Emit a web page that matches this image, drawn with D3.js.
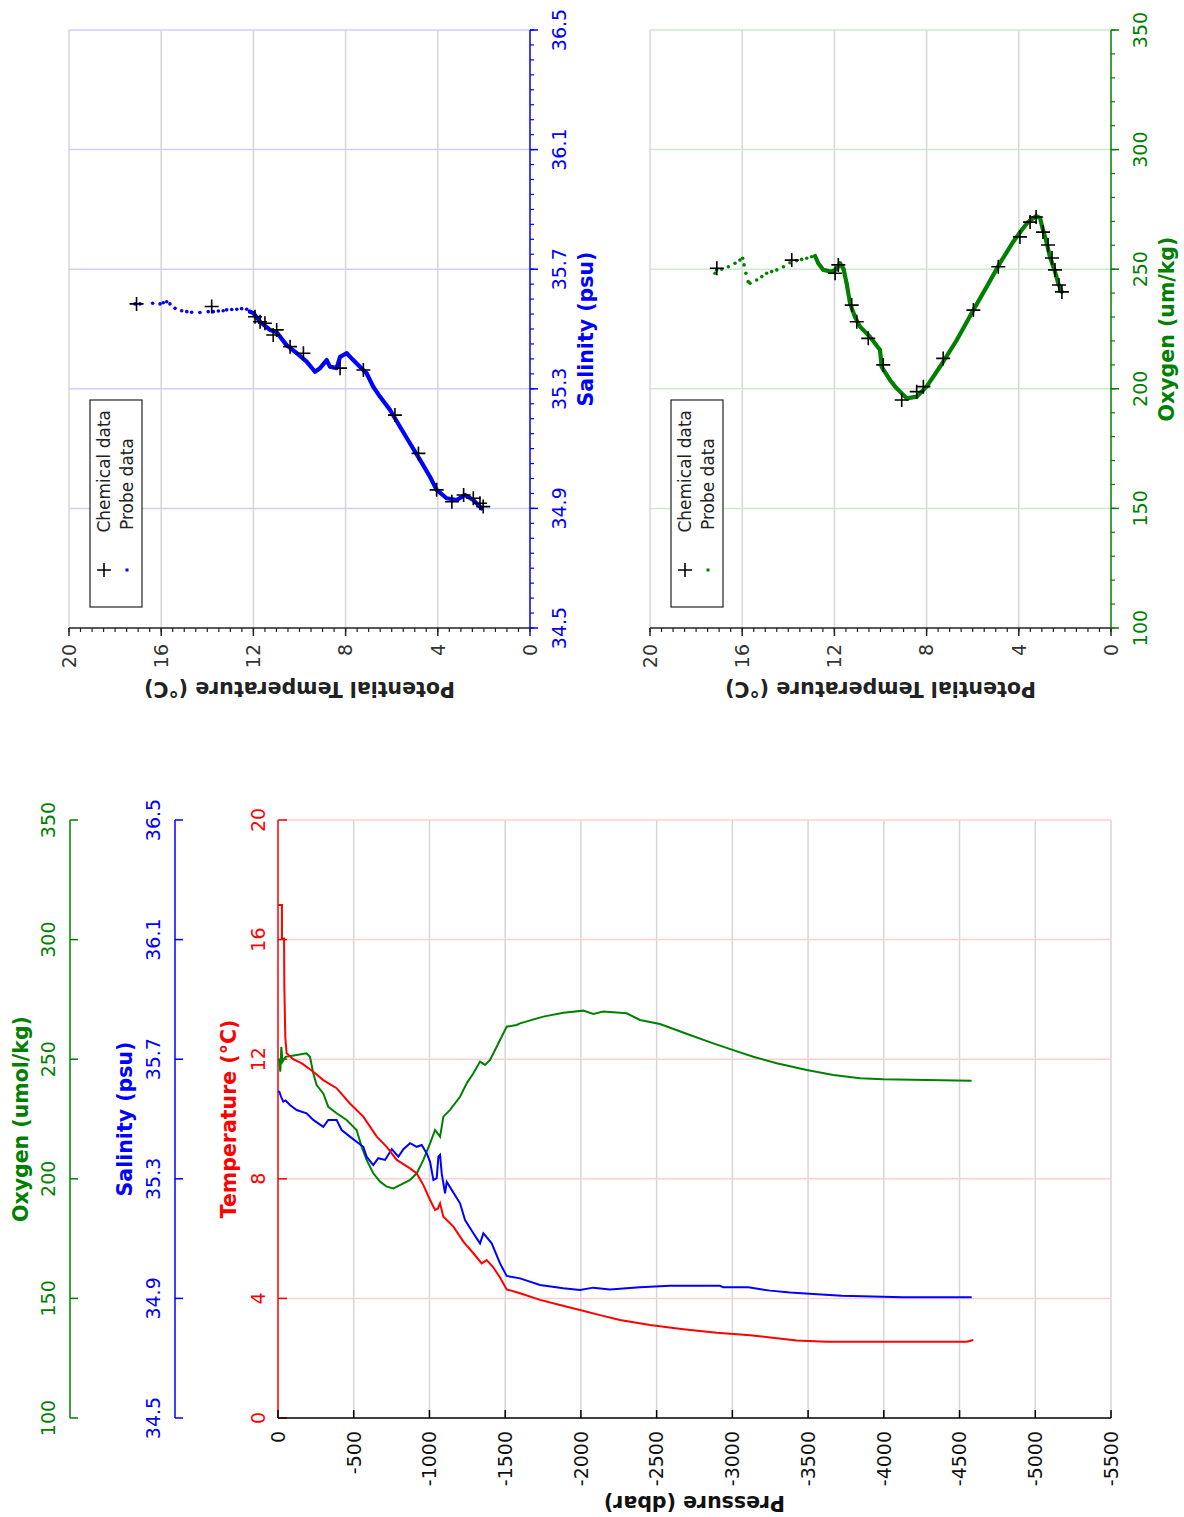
<!DOCTYPE html>
<html><head><meta charset="utf-8">
<script src="https://cdn.jsdelivr.net/npm/d3@7/dist/d3.min.js"></script>
<style>
html,body{margin:0;padding:0;background:#fff;}
svg{display:block;}
text{font-family:"DejaVu Sans",Verdana,sans-serif;}
</style></head><body>
<svg id="chart" width="1184" height="1517"></svg>
<script>
// ---------------- data ----------------
const pressureTicks = [0,-500,-1000,-1500,-2000,-2500,-3000,-3500,-4000,-4500,-5000,-5500];
const temperatureTicks = [0,4,8,12,16,20];
const salinityTicks = [34.5,34.9,35.3,35.7,36.1,36.5];
const oxygenTicks = [100,150,200,250,300,350];
const thetaTicks = [0,4,8,12,16,20];

// [pressure (dbar), temperature (°C)]
const temperatureProfile = [[0,17.16],[-26,17.16],[-26,16.04],[-40,16.04],[-42,14.4],[-48,12.75],[-57,12.2],[-100,12.0],[-160,11.85],[-233,11.58],[-299,11.3],[-387,11.03],[-475,10.52],[-563,10.08],[-652,9.41],[-718,9.07],[-784,8.63],[-872,8.35],[-916,8.18],[-960,7.79],[-1004,7.29],[-1037,6.96],[-1055,7.0],[-1070,7.18],[-1092,6.73],[-1158,6.4],[-1224,5.9],[-1290,5.51],[-1345,5.17],[-1378,5.28],[-1420,5.05],[-1466,4.7],[-1510,4.3],[-1598,4.17],[-1730,3.95],[-1862,3.78],[-1994,3.61],[-2126,3.44],[-2258,3.28],[-2456,3.11],[-2676,2.97],[-2897,2.85],[-3117,2.77],[-3293,2.67],[-3425,2.59],[-3623,2.55],[-4547,2.55],[-4591,2.61]];
// [pressure, salinity (psu)]
const salinityProfile = [[0,35.591],[-9,35.591],[-20,35.575],[-35,35.558],[-50,35.562],[-79,35.547],[-123,35.530],[-189,35.519],[-233,35.497],[-299,35.474],[-332,35.497],[-387,35.497],[-420,35.463],[-475,35.441],[-519,35.424],[-563,35.407],[-585,35.374],[-629,35.346],[-662,35.369],[-707,35.363],[-751,35.399],[-795,35.374],[-828,35.399],[-872,35.419],[-916,35.407],[-949,35.413],[-982,35.385],[-1004,35.357],[-1026,35.296],[-1048,35.302],[-1059,35.374],[-1070,35.380],[-1081,35.318],[-1103,35.251],[-1114,35.290],[-1147,35.263],[-1202,35.218],[-1235,35.162],[-1290,35.118],[-1334,35.084],[-1356,35.118],[-1411,35.084],[-1466,35.017],[-1510,34.975],[-1598,34.967],[-1730,34.945],[-1884,34.934],[-1994,34.928],[-2082,34.936],[-2192,34.930],[-2390,34.937],[-2588,34.942],[-2918,34.942],[-2940,34.937],[-3105,34.937],[-3249,34.926],[-3381,34.920],[-3535,34.915],[-3722,34.909],[-4129,34.904],[-4580,34.904]];
// [pressure, oxygen (umol/kg)]
const oxygenProfile = [[0,249.7],[-9,249.7],[-15,244.8],[-22,255.2],[-30,249],[-50,251],[-123,251.8],[-189,252.5],[-211,251],[-233,244.1],[-255,239.2],[-299,235.7],[-332,230.1],[-387,227.4],[-453,224.6],[-519,220.4],[-552,213.4],[-585,207.9],[-629,202.3],[-674,198.8],[-718,196.7],[-762,196.0],[-828,198.1],[-872,199.5],[-916,202.3],[-960,207.9],[-1004,214.8],[-1037,220.4],[-1070,217.6],[-1092,226],[-1136,228.8],[-1202,234.3],[-1246,239.9],[-1290,244.1],[-1334,249],[-1367,247.6],[-1400,249.7],[-1444,255.2],[-1510,263.6],[-1576,264.3],[-1598,265],[-1752,267.8],[-1884,269.4],[-2016,270.3],[-2082,268.9],[-2148,269.9],[-2302,269.2],[-2390,266.4],[-2522,264.7],[-2720,260.1],[-2874,256.6],[-3006,253.8],[-3138,251],[-3293,248.3],[-3491,245.5],[-3667,243.4],[-3843,242],[-3997,241.6],[-4283,241.3],[-4580,241]];

// T-S diagram: [potential temperature, salinity]
const tsProbeSparse = [[17.14,35.584],[16.92,35.584],[16.37,35.586],[16.05,35.584],[15.91,35.588],[15.76,35.591],[15.62,35.584],[15.40,35.569],[15.11,35.561],[14.89,35.558],[14.68,35.556],[14.32,35.555],[13.96,35.558],[13.74,35.558],[13.52,35.560],[13.31,35.561],[13.16,35.564],[12.94,35.565],[12.72,35.566],[12.51,35.568],[12.29,35.566],[12.15,35.558]];
const tsProbeDense = [[12.15,35.558],[12.0,35.553],[11.71,35.524],[11.28,35.497],[11.0,35.49],[10.56,35.446],[10.12,35.419],[9.69,35.391],[9.33,35.357],[9.11,35.369],[8.82,35.396],[8.68,35.374],[8.39,35.369],[8.24,35.407],[7.95,35.419],[7.67,35.396],[7.38,35.374],[7.09,35.352],[6.80,35.307],[6.51,35.274],[6.07,35.229],[5.64,35.173],[5.21,35.118],[4.77,35.062],[4.34,35.006],[4.05,34.962],[3.62,34.934],[3.18,34.928],[2.82,34.945],[2.46,34.928],[2.24,34.911],[2.10,34.900]];
const tsChemical = [[17.07,35.584],[13.81,35.575],[11.93,35.541],[11.71,35.524],[11.50,35.519],[11.14,35.480],[10.99,35.497],[10.41,35.441],[9.83,35.419],[8.24,35.369],[7.23,35.363],[5.86,35.212],[4.84,35.084],[4.05,34.962],[3.39,34.922],[2.88,34.945],[2.46,34.934],[2.17,34.917],[2.03,34.906]];

// Theta-O2 diagram: [potential temperature, oxygen]
const toProbeSparse = [[17.18,248.3],[17.11,249.7],[16.89,250.0],[16.60,251.0],[16.31,252.5],[16.10,253.8],[15.98,254.6],[15.92,251.8],[15.84,248.3],[15.74,244.8],[15.66,244.1],[15.37,245.5],[15.15,246.9],[14.94,248.3],[14.72,249.0],[14.50,249.7],[14.21,251.0],[13.93,252.7],[13.64,253.6],[13.42,254.1],[13.20,254.6],[12.99,255.2],[12.84,255.5]];
const toProbeDense = [[12.84,255.5],[12.7,252.5],[12.48,249.7],[12.12,249],[11.9,250],[11.76,252.5],[11.6,250],[11.47,244.1],[11.32,235.7],[11.11,230.1],[10.89,226],[10.46,221.8],[10.02,216.2],[9.95,209.2],[9.59,203.7],[9.3,200.2],[8.86,196],[8.43,196.7],[8.0,200.9],[7.42,209.2],[6.69,220.4],[5.97,232.9],[5.39,242.7],[4.82,252.5],[4.24,261.5],[3.95,265.4],[3.60,269.7],[3.25,272.2],[3.08,271.4],[2.95,266.4],[2.82,262.2],[2.65,255.2],[2.43,249],[2.29,244.1],[2.14,240.6]];
const toChemical = [[17.1,250.4],[13.85,253.8],[11.83,251.8],[11.97,248.3],[11.25,235],[11.03,228],[10.53,221.1],[9.88,210],[9.08,195.3],[8.43,198.8],[8.14,200.9],[7.28,212.7],[5.97,232.9],[4.89,251],[3.95,263.5],[3.51,269.7],[3.25,271.8],[2.95,265.5],[2.73,260.1],[2.56,254.7],[2.43,249.7],[2.26,243.4],[2.13,240.5]];

const legendLabels = ["Chemical data","Probe data"];

// ---------------- drawing ----------------
const W = 1184, H = 1517;
const RED = "#ff0000", BLUE = "#0000ff", GREEN = "#008000", BLACK = "#000";
const GRID = "#d6d6d6", GRID_R = "#ffcfcf", GRID_B = "#cfcffc", GRID_G = "#cfe9cf";
const TICK_FS = 19, TITLE_FS = 20.5, LEG_FS = 17;

const svg = d3.select("#chart");
svg.append("rect").attr("width", W).attr("height", H).attr("fill", "#fff");
// The whole figure is a landscape plot turned 90° counter-clockwise.
const g = svg.append("g").attr("transform", `translate(0,${H}) rotate(-90)`);

function ln(p, x1, y1, x2, y2, c, w) {
  return p.append("line").attr("x1", x1).attr("y1", y1).attr("x2", x2).attr("y2", y2)
    .attr("stroke", c).attr("stroke-width", w);
}
function txt(p, s, x, y, c, fs, anchor, bold) {
  return p.append("text").attr("x", x).attr("y", y).attr("fill", c)
    .attr("font-size", fs).attr("text-anchor", anchor || "middle")
    .attr("font-weight", bold ? "bold" : "normal").text(s);
}

// ===== Left panel: profiles vs pressure =====
const L = {x0: 99, x1: 697, y0: 278, y1: 1111};
const xT = d3.scaleLinear().domain([0, 20]).range([L.x0, L.x1]);
const xS = d3.scaleLinear().domain([34.5, 36.5]).range([L.x0, L.x1]);
const xO = d3.scaleLinear().domain([100, 350]).range([L.x0, L.x1]);
const yP = d3.scaleLinear().domain([0, -5500]).range([L.y0, L.y1]);

const gl = g.append("g");
pressureTicks.filter(p => p !== 0).forEach(p => ln(gl, L.x0, yP(p), L.x1, yP(p), GRID, 1.5));
temperatureTicks.filter(t => t !== 0).forEach(t => ln(gl, xT(t), L.y0, xT(t), L.y1, GRID_R, 1.5));

// temperature axis (red)
ln(gl, L.x0, 278, L.x1, 278, RED, 1.5);
temperatureTicks.forEach(t => {
  ln(gl, xT(t), 278, xT(t), 287, RED, 1.5);
  txt(gl, String(t), xT(t), 265, RED, TICK_FS);
});
txt(gl, "Temperature (°C)", (L.x0 + L.x1) / 2, 236, RED, TITLE_FS, "middle", true);
// salinity axis (blue)
ln(gl, L.x0, 175, L.x1, 175, BLUE, 1.5);
salinityTicks.forEach(s => {
  ln(gl, xS(s), 175, xS(s), 183, BLUE, 1.5);
  txt(gl, s.toFixed(1), xS(s), 160, BLUE, TICK_FS);
});
txt(gl, "Salinity (psu)", (L.x0 + L.x1) / 2, 132, BLUE, TITLE_FS, "middle", true);
// oxygen axis (green)
ln(gl, L.x0, 70, L.x1, 70, GREEN, 1.5);
oxygenTicks.forEach(o => {
  ln(gl, xO(o), 70, xO(o), 78, GREEN, 1.5);
  txt(gl, String(o), xO(o), 55, GREEN, TICK_FS);
});
txt(gl, "Oxygen (umol/kg)", (L.x0 + L.x1) / 2, 28, GREEN, TITLE_FS, "middle", true);
// pressure axis
ln(gl, L.x0, L.y0, L.x0, L.y1, BLACK, 1.5);
pressureTicks.forEach(p => {
  ln(gl, L.x0, yP(p), L.x0 + 8, yP(p), BLACK, 1.5);
  txt(gl, String(p), L.x0 - 13, yP(p), "#111", TICK_FS, "end").attr("dy", "0.36em");
});
txt(gl, "Pressure (dbar)", 0, 0, "#111", TITLE_FS, "middle", true)
  .attr("transform", `translate(21,${(L.y0 + L.y1) / 2}) rotate(-90)`);

// profiles
const prof = (xs) => d3.line().x(d => xs(d[1])).y(d => yP(d[0]));
gl.append("path").datum(oxygenProfile).attr("d", prof(xO)).attr("fill", "none").attr("stroke", GREEN).attr("stroke-width", 2);
gl.append("path").datum(salinityProfile).attr("d", prof(xS)).attr("fill", "none").attr("stroke", BLUE).attr("stroke-width", 2);
gl.append("path").datum(temperatureProfile).attr("d", prof(xT)).attr("fill", "none").attr("stroke", RED).attr("stroke-width", 2);

// ===== Right panels: property vs potential temperature =====
function propertyPanel(cfg) {
  const P = {x0: 889, x1: 1487, y0: cfg.y0, y1: cfg.y0 + 461};
  const x = d3.scaleLinear().domain(cfg.domain).range([P.x0, P.x1]);
  const y = d3.scaleLinear().domain([0, 20]).range([P.y1, P.y0]);
  const p = g.append("g");
  // grid
  thetaTicks.filter(t => t !== 0).forEach(t => ln(p, P.x0, y(t), P.x1, y(t), GRID, 1.5));
  cfg.ticks.filter(v => v !== cfg.domain[0]).forEach(v => ln(p, x(v), P.y0, x(v), P.y1, cfg.grid, 1.5));
  // theta axis (left)
  ln(p, P.x0, P.y0, P.x0, P.y1, "#222", 1.5);
  y.ticks(40).forEach(t => ln(p, P.x0, y(t), P.x0 - 4, y(t), "#222", 1.2));
  thetaTicks.forEach(t => {
    ln(p, P.x0, y(t), P.x0 - 8, y(t), "#222", 1.5);
    txt(p, String(t), P.x0 - 16, y(t), "#333", TICK_FS, "end").attr("dy", "0.36em");
  });
  txt(p, "Potential Temperature (°C)", 0, 0, "#222", TITLE_FS, "middle", true)
    .attr("transform", `translate(835,${(P.y0 + P.y1) / 2}) rotate(-90)`);
  // property axis (bottom)
  ln(p, P.x0, P.y1, P.x1, P.y1, cfg.color, 1.5);
  x.ticks(cfg.minor).forEach(v => ln(p, x(v), P.y1, x(v), P.y1 + 4, cfg.color, 1.2));
  cfg.ticks.forEach(v => {
    ln(p, x(v), P.y1, x(v), P.y1 + 8, cfg.color, 1.5);
    txt(p, cfg.fmt(v), x(v), P.y1 + 36, cfg.color, TICK_FS);
  });
  txt(p, cfg.title, (P.x0 + P.x1) / 2, P.y1 + 63, cfg.color, TITLE_FS, "middle", true);
  // probe data
  const line = d3.line().x(d => x(d[1])).y(d => y(d[0]));
  p.append("path").datum(cfg.dense).attr("d", line).attr("fill", "none")
    .attr("stroke", cfg.color).attr("stroke-width", 4.2)
    .attr("stroke-linejoin", "round").attr("stroke-linecap", "round");
  p.selectAll("circle.probe").data(cfg.sparse.concat(cfg.dense)).enter().append("circle")
    .attr("cx", d => x(d[1])).attr("cy", d => y(d[0])).attr("r", 1.8).attr("fill", cfg.color);
  // chemical data
  p.selectAll("path.chem").data(cfg.chem).enter().append("path")
    .attr("d", "M-7,0H7M0,-7V7")
    .attr("transform", d => `translate(${x(d[1])},${y(d[0])})`)
    .attr("stroke", "#000").attr("stroke-width", 1.6).attr("fill", "none");
  // legend
  const lx = 910, ly = P.y0 + 21;
  p.append("rect").attr("x", lx).attr("y", ly).attr("width", 207).attr("height", 52)
    .attr("fill", "#fff").attr("stroke", "#222").attr("stroke-width", 1.2);
  p.append("path").attr("d", "M-7,0H7M0,-7V7").attr("transform", `translate(${lx + 37},${ly + 14})`)
    .attr("stroke", "#000").attr("stroke-width", 1.6);
  p.append("rect").attr("x", lx + 35.5).attr("y", ly + 35.5).attr("width", 3).attr("height", 3).attr("fill", cfg.color);
  txt(p, legendLabels[0], lx + 197, ly + 14, "#222", LEG_FS, "end").attr("dy", "0.36em");
  txt(p, legendLabels[1], lx + 77, ly + 37, "#222", LEG_FS, "start").attr("dy", "0.36em");
}

propertyPanel({
  y0: 69, domain: [34.5, 36.5], ticks: salinityTicks, minor: 40, fmt: v => v.toFixed(1),
  color: BLUE, grid: GRID_B, title: "Salinity (psu)",
  sparse: tsProbeSparse, dense: tsProbeDense, chem: tsChemical
});
propertyPanel({
  y0: 650, domain: [100, 350], ticks: oxygenTicks, minor: 25, fmt: v => String(v),
  color: GREEN, grid: GRID_G, title: "Oxygen (um/kg)",
  sparse: toProbeSparse, dense: toProbeDense, chem: toChemical
});
</script>
</body></html>
